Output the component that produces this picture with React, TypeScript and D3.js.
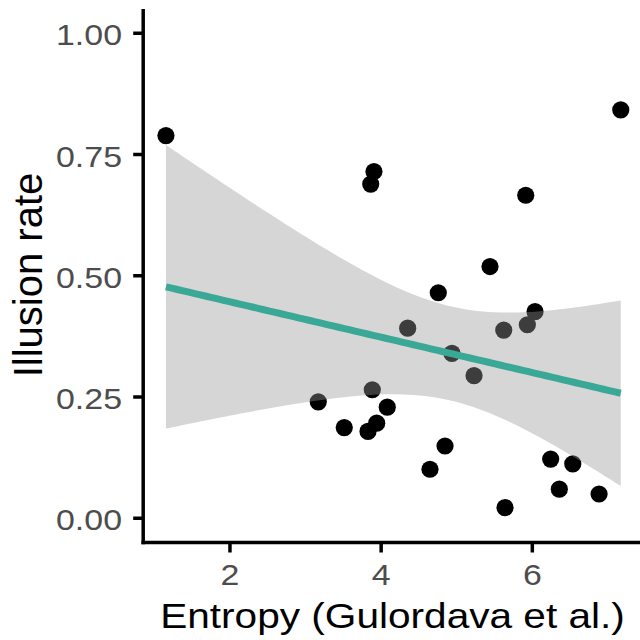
import React from "react";
import * as d3 from "d3";

const entropy = [1.153, 7.170, 3.905, 3.862, 5.913, 5.440, 4.756, 6.036, 5.934, 4.351, 5.622, 4.937, 5.229, 3.883, 3.168, 4.081, 3.512, 3.941, 3.826, 4.845, 4.646, 6.243, 6.535, 6.357, 6.883, 5.639];
const illusion = [0.789, 0.842, 0.715, 0.689, 0.666, 0.519, 0.465, 0.426, 0.399, 0.392, 0.388, 0.340, 0.294, 0.265, 0.240, 0.229, 0.187, 0.196, 0.179, 0.149, 0.101, 0.122, 0.112, 0.060, 0.050, 0.022];
const yTicks = [0, 0.25, 0.5, 0.75, 1.0];
const yTickLabels = ["0.00", "0.25", "0.50", "0.75", "1.00"];
const xTicks = [2, 4, 6];
const xTitle = "Entropy (Gulordava et al.)";
const yTitle = "Illusion rate";

const FONT = "'Liberation Sans', Arial, sans-serif";

export default function App() {
  const n = entropy.length;
  const [xmin, xmax] = d3.extent(entropy) as [number, number];
  const pad = (xmax - xmin) * 0.05;
  const x = d3.scaleLinear().domain([xmin - pad, xmax + pad]).range([143.2, 643.5]);
  const y = d3.scaleLinear().domain([-0.05, 1.05]).range([542.5, 9]);

  // OLS fit
  const mx = d3.mean(entropy)!;
  const my = d3.mean(illusion)!;
  let sxx = 0, sxy = 0;
  for (let i = 0; i < n; i++) {
    sxx += (entropy[i] - mx) ** 2;
    sxy += (entropy[i] - mx) * (illusion[i] - my);
  }
  const b = sxy / sxx;
  const a = my - b * mx;
  let sse = 0;
  for (let i = 0; i < n; i++) sse += (illusion[i] - (a + b * entropy[i])) ** 2;
  const s = Math.sqrt(sse / (n - 2));
  const tq = 2.0639;
  const grid = d3.range(80).map((i) => xmin + (i / 79) * (xmax - xmin));
  const band = grid.map((gx) => {
    const fit = a + b * gx;
    const se = s * Math.sqrt(1 / n + (gx - mx) ** 2 / sxx);
    return { gx, fit, lo: fit - tq * se, hi: fit + tq * se };
  });
  const area = d3
    .area<any>()
    .x((d) => x(d.gx))
    .y0((d) => y(d.lo))
    .y1((d) => y(d.hi));
  const line = d3
    .line<any>()
    .x((d) => x(d.gx))
    .y((d) => y(d.fit));

  const x0 = x.range()[0];
  const y0 = y.range()[0];

  return (
    <svg width={640} height={640} style={{ position: "absolute", left: 0, top: 0, background: "#fff" }}>
      <rect width={640} height={640} fill="#fff" />
      {entropy.map((ex, i) => (
        <circle key={i} cx={x(ex)} cy={y(illusion[i])} r={8.6} fill="#000" />
      ))}
      <path d={area(band) || ""} fill="#999999" fillOpacity={0.4} />
      <path d={line(band) || ""} fill="none" stroke="#3aa896" strokeWidth={7} />
      {/* axes */}
      <line x1={x0} x2={x0} y1={y.range()[1]} y2={y0 + 1.75} stroke="#000" strokeWidth={3.5} />
      <line x1={x0 - 1.75} x2={643.5} y1={y0} y2={y0} stroke="#000" strokeWidth={3.5} />
      {yTicks.map((t, i) => (
        <g key={i}>
          <line x1={x0 - 10} x2={x0} y1={y(t)} y2={y(t)} stroke="#000" strokeWidth={3.5} />
          <text
            transform={`translate(122,${y(t) + 12.2}) scale(1.15,1)`}
            textAnchor="end"
            fontFamily={FONT}
            fontSize={29.5}
            fill="#4d4d4d"
          >
            {yTickLabels[i]}
          </text>
        </g>
      ))}
      {xTicks.map((t, i) => (
        <g key={i}>
          <line x1={x(t)} x2={x(t)} y1={y0} y2={y0 + 10} stroke="#000" strokeWidth={3.5} />
          <text
            transform={`translate(${x(t)},585) scale(1.15,1)`}
            textAnchor="middle"
            fontFamily={FONT}
            fontSize={29.5}
            fill="#4d4d4d"
          >
            {t}
          </text>
        </g>
      ))}
      <text
        transform={`translate(392.5,628.3) scale(1.16,1)`}
        textAnchor="middle"
        fontFamily={FONT}
        fontSize={35}
        fill="#000"
      >
        {xTitle}
      </text>
      <text
        transform={`translate(41.7,275) rotate(-90)`}
        textAnchor="middle"
        fontFamily={FONT}
        fontSize={40}
        fill="#000"
      >
        {yTitle}
      </text>
    </svg>
  );
}
